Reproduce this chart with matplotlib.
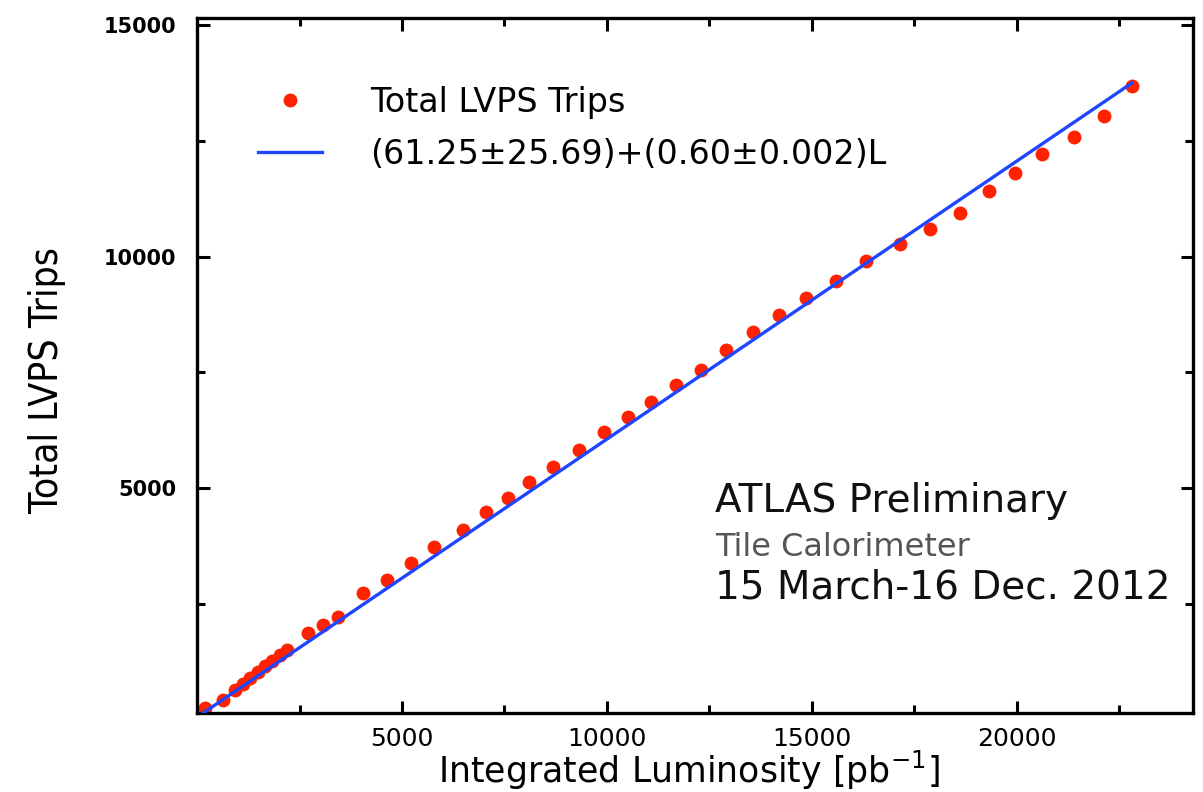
import matplotlib.pyplot as plt
import numpy as np

# Integrated luminosity [pb^-1] and cumulative LVPS trips
lumi = [196, 636, 929, 1125, 1296, 1491, 1663, 1834, 2029, 2200,
        2714, 3081, 3447, 4059, 4645, 5208, 5770, 6479, 7042, 7579,
        8093, 8680, 9315, 9927, 10513, 11076, 11687, 12298, 12910, 13570,
        14205, 14866, 15599, 16333, 17139, 17873, 18606, 19315, 19951, 20611,
        21394, 22127, 22812]
trips = [259, 431, 647, 776, 905, 1034, 1164, 1272, 1401, 1509,
         1875, 2047, 2220, 2737, 3017, 3384, 3728, 4095, 4483, 4784,
         5129, 5453, 5819, 6207, 6530, 6853, 7220, 7560, 7990, 8380,
         8750, 9100, 9470, 9900, 10270, 10600, 10948, 11422, 11810, 12220,
         12586, 13039, 13685]

# fit parameters shown in the legend
fit_a = 61.25
fit_b = 0.60

x_ticks = [5000, 10000, 15000, 20000]
y_ticks = [5000, 10000, 15000]

fig = plt.figure(figsize=(12.03, 7.92), dpi=100)
ax = fig.add_axes([0.1638, 0.0997, 0.8279, 0.8776])

ax.plot(lumi, trips, 'o', color='#ff2200', markersize=10, markeredgewidth=0,
        label='Total LVPS Trips', zorder=2)
xfit = np.array([0, max(lumi)])
ax.plot(xfit, fit_a + fit_b * xfit, color='#1f45ff', linewidth=2.4,
        label='(61.25±25.69)+(0.60±0.002)L', zorder=3)

ax.set_xlim(0, 24300)
ax.set_ylim(150, 15150)
ax.set_xticks(x_ticks)
ax.set_yticks(y_ticks)
ax.set_xticks(np.arange(2500, 24300, 5000), minor=True)
ax.set_yticks(np.arange(2500, 15000, 5000), minor=True)

ax.tick_params(which='both', direction='in', top=True, right=True, width=2.2)
ax.tick_params(which='major', length=9)
ax.tick_params(which='minor', length=6)
ax.tick_params(axis='x', which='major', labelsize=18, pad=10)
ax.tick_params(axis='y', which='major', pad=15)
for lab in ax.get_yticklabels():
    lab.set_fontweight('bold')
    lab.set_fontsize(15)
for sp in ax.spines.values():
    sp.set_linewidth(2.4)

ax.set_xlabel('Integrated Luminosity [pb$^{-1}$]', fontsize=25)
ax.xaxis.set_label_coords(0.494, -0.052)
ax.set_ylabel('Total LVPS Trips', fontsize=28, fontstretch='condensed')
ax.yaxis.set_label_coords(-0.132, 0.479)

ax.legend(loc='upper left', bbox_to_anchor=(0.048, 0.922), frameon=False,
          borderaxespad=0, fontsize=24, handlelength=1.92, handletextpad=1.44,
          labelspacing=0.57, numpoints=1)

ax.text(0.52, 0.289, 'ATLAS Preliminary', transform=ax.transAxes, fontsize=28,
        color='#111111', fontweight='medium')
ax.text(0.52, 0.226, 'Tile Calorimeter', transform=ax.transAxes, fontsize=23,
        color='#555555')
ax.text(0.52, 0.165, '15 March-16 Dec. 2012', transform=ax.transAxes, fontsize=28,
        color='#111111', fontweight='medium')

plt.savefig('out.png', dpi=100)
